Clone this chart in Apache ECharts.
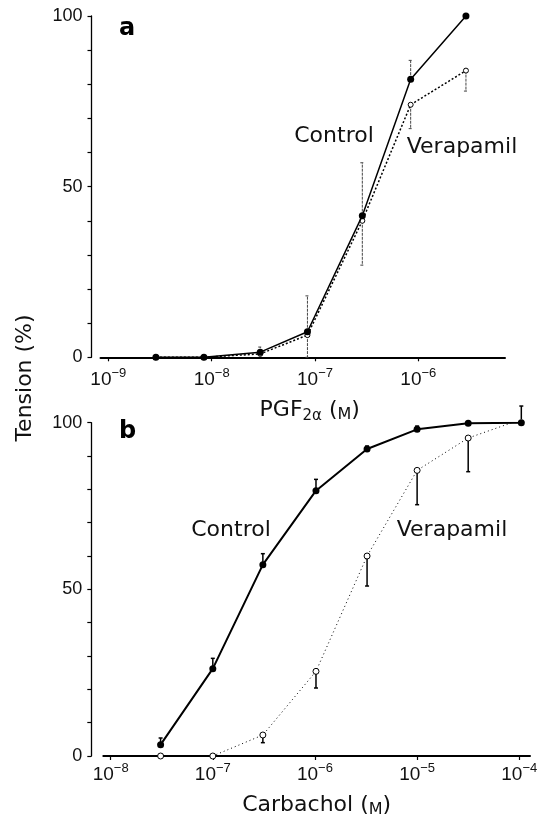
<!DOCTYPE html>
<html>
<head>
<meta charset="utf-8">
<script src="https://cdn.jsdelivr.net/npm/echarts@6/dist/echarts.min.js"></script>
<style>
html,body{margin:0;padding:0;background:#fff;}
#chart{width:545px;height:819px;}
</style>
</head>
<body>
<div id="chart"></div>
<script>
// ---- Panel a: PGF2alpha (log10 molar concentration) ----
const aLogDose = [-8.54, -8.075, -7.53, -7.073, -6.542, -6.074, -5.539];
const aControl = [0, 0, 1.5, 7.5, 41.5, 81.5, 100];
const aVerapamil = [0, 0, 1, 6.5, 40, 74, 84];
const aControlErrTop = [null, null, 3, 18, 57, 87, null];
const aVerapamilErrBottom = [null, null, null, 0, 27, 67, 78];
const aTicks = [-9, -8, -7, -6];

// ---- Panel b: Carbachol (log10 molar concentration) ----
const bLogDose = [-7.511, -7.0, -6.51, -5.99, -5.49, -5.0, -4.50, -3.98];
const bControl = [3.4, 26.2, 57.4, 79.6, 92.1, 98.0, 99.8, 100];
const bControlErrTop = [5.4, 29.3, 60.7, 83, 93, 99, null, null];
const bVerapamil = [0, 0, 6.3, 25.4, 60, 85.7, 95.4, 101];
const bVerapamilErr = [null, null, 4, 20.4, 51, 75.4, 85.3, 105];
const bTicks = [-8, -7, -6, -5, -4];

const yTickLabels = [0, 50, 100];

const FONT = 'DejaVu Sans';
const TICKFONT = 'Liberation Sans';

function pairs(xs, ys) { return xs.map((x, i) => [x, ys[i]]); }
function errData(xs, vals, ends) {
  const out = [];
  xs.forEach((x, i) => { if (ends[i] !== null && ends[i] !== undefined) out.push([x, vals[i], ends[i]]); });
  return out;
}
function errSeries(xi, data, style) {
  return {
    type: 'custom', xAxisIndex: xi, yAxisIndex: xi, silent: true, z: 1,
    data: data,
    renderItem: function (params, api) {
      const p0 = api.coord([api.value(0), api.value(1)]);
      const p1 = api.coord([api.value(0), api.value(2)]);
      return {
        type: 'group',
        children: [
          { type: 'line', shape: { x1: p0[0], y1: p0[1], x2: p1[0], y2: p1[1] }, style: style },
          { type: 'line', shape: { x1: p1[0] - 2, y1: p1[1], x2: p1[0] + 2, y2: p1[1] }, style: style }
        ]
      };
    }
  };
}
const expLabel = v => '{b|10}{s|−' + Math.abs(v) + '}';
const xRich = {
  b: { fontSize: 19, fontFamily: TICKFONT, color: '#111', lineHeight: 22, verticalAlign: 'bottom' },
  s: { fontSize: 13, fontFamily: TICKFONT, color: '#111', lineHeight: 12, verticalAlign: 'top' }
};
function xAxisDef(gi, min, max, ticks, name, nameGap, margin, namePad) {
  return {
    type: 'value', gridIndex: gi, min: min, max: max,
    axisLine: { show: true, onZero: false, lineStyle: { color: '#000', width: 2 } },
    axisTick: { show: true, length: 4, customValues: ticks, lineStyle: { color: '#000', width: 1.2 } },
    axisLabel: { customValues: ticks, formatter: expLabel, rich: xRich, margin: margin },
    splitLine: { show: false },
    name: name, nameLocation: 'middle', nameGap: nameGap,
    nameTextStyle: {
      padding: namePad,
      rich: {
        n: { fontSize: 22, fontFamily: FONT, color: '#111', lineHeight: 26 },
        sub: { fontSize: 15, fontFamily: FONT, color: '#111', lineHeight: 12, verticalAlign: 'bottom' },
        m: { fontSize: 16, fontFamily: FONT, color: '#111', lineHeight: 20, verticalAlign: 'bottom' }
      }
    }
  };
}
function yAxisDef(gi, offset) {
  return {
    type: 'value', gridIndex: gi, min: 0, max: 100, interval: 10, offset: offset,
    axisLine: { show: true, onZero: false, lineStyle: { color: '#000', width: 1.3 } },
    axisTick: { show: true, length: 4, lineStyle: { color: '#000', width: 1.2 } },
    axisLabel: {
      fontSize: 18, fontFamily: TICKFONT, color: '#111', margin: 9,
      formatter: v => (yTickLabels.indexOf(v) >= 0 ? String(v) : '')
    },
    splitLine: { show: false }
  };
}

const chart = echarts.init(document.getElementById('chart'), null, { renderer: 'canvas' });
chart.setOption({
  backgroundColor: '#fff',
  animation: false,
  grid: [
    { left: 100.5, top: 16, width: 404.5, height: 341.3 },
    { left: 103.3, top: 422.7, width: 426.7, height: 338 }
  ],
  xAxis: [
    xAxisDef(0, -9.076, -5.161, aTicks, '{n|PGF}{sub|2α}{n| (}{m|M}{n|)}', 40, 10, [0, 0, 0, 14]),
    xAxisDef(1, -8.072, -3.895, bTicks, '{n|Carbachol (}{m|M}{n|)}', 36, 6, [0, 0, 0, 0])
  ],
  yAxis: [yAxisDef(0, 9), yAxisDef(1, 12)],
  series: [
    errSeries(0, errData(aLogDose, aControl, aControlErrTop), { stroke: '#444', lineWidth: 1, lineDash: [3, 1] }),
    errSeries(0, errData(aLogDose, aVerapamil, aVerapamilErrBottom), { stroke: '#444', lineWidth: 1, lineDash: [3, 1] }),
    {
      type: 'line', xAxisIndex: 0, yAxisIndex: 0, data: pairs(aLogDose, aVerapamil),
      symbol: 'circle', symbolSize: 5, z: 2,
      itemStyle: { color: '#fff', borderColor: '#000', borderWidth: 1 },
      lineStyle: { color: '#000', width: 1.5, type: [2, 2] }, emphasis: { disabled: true }
    },
    {
      type: 'line', xAxisIndex: 0, yAxisIndex: 0, data: pairs(aLogDose, aControl),
      symbol: 'circle', symbolSize: 7, z: 3,
      itemStyle: { color: '#000' },
      lineStyle: { color: '#000', width: 1.5 }, emphasis: { disabled: true }
    },
    errSeries(1, errData(bLogDose, bControl, bControlErrTop), { stroke: '#000', lineWidth: 1.5 }),
    errSeries(1, errData(bLogDose, bVerapamil, bVerapamilErr), { stroke: '#000', lineWidth: 1.5 }),
    {
      type: 'line', xAxisIndex: 1, yAxisIndex: 1, data: pairs(bLogDose, bVerapamil),
      symbol: 'circle', symbolSize: 6, z: 2,
      itemStyle: { color: '#fff', borderColor: '#000', borderWidth: 1 },
      lineStyle: { color: '#000', width: 1, type: [1, 3] }, emphasis: { disabled: true }
    },
    {
      type: 'line', xAxisIndex: 1, yAxisIndex: 1, data: pairs(bLogDose, bControl),
      symbol: 'circle', symbolSize: 7, z: 3,
      itemStyle: { color: '#000' },
      lineStyle: { color: '#000', width: 2 }, emphasis: { disabled: true }
    }
  ],
  graphic: [
    { type: 'text', left: 119, top: 17, style: { text: 'a', font: 'bold 24px "DejaVu Sans"', fill: '#000' } },
    { type: 'text', left: 119, top: 420, style: { text: 'b', font: 'bold 24px "DejaVu Sans"', fill: '#000' } },
    { type: 'text', x: 334, y: 136, style: { text: 'Control', font: '22px "DejaVu Sans"', fill: '#111', align: 'center', verticalAlign: 'middle' } },
    { type: 'text', x: 462, y: 147, style: { text: 'Verapamil', font: '22px "DejaVu Sans"', fill: '#111', align: 'center', verticalAlign: 'middle' } },
    { type: 'text', x: 231, y: 530, style: { text: 'Control', font: '22px "DejaVu Sans"', fill: '#111', align: 'center', verticalAlign: 'middle' } },
    { type: 'text', x: 452, y: 530, style: { text: 'Verapamil', font: '22px "DejaVu Sans"', fill: '#111', align: 'center', verticalAlign: 'middle' } },
    { type: 'text', x: 25, y: 378, rotation: Math.PI / 2, style: { text: 'Tension (%)', font: '22px "DejaVu Sans"', fill: '#111', align: 'center', verticalAlign: 'middle' } }
  ]
});
</script>
</body>
</html>
